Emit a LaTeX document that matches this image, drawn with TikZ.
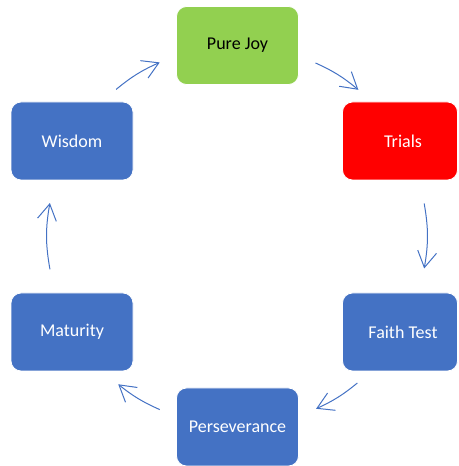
\documentclass[tikz,border=0pt]{standalone}
\usepackage{fontspec}
\setmainfont{Carlito}
\usetikzlibrary{arrows.meta}
\definecolor{joygreen}{HTML}{92D050}
\definecolor{trialred}{HTML}{FF0000}
\definecolor{boxblue}{HTML}{4472C4}
\tikzset{
  stagebox/.style={rectangle, rounded corners=10pt, minimum width=122pt, minimum height=78pt,
    inner sep=0pt, draw=white, line width=0.8pt, text=white,
    font=\fontsize{18}{22}\selectfont},
  cyclearrow/.style={draw=boxblue, line width=1pt,
    -{Straight Barb[length=16pt, width=19pt, line width=1pt]}}
}
\begin{document}
\begin{tikzpicture}[x=1pt, y=1pt]
\useasboundingbox (0,0) rectangle (458,466);
\clip (0,0) rectangle (458,466);
\node[stagebox, fill=joygreen, text=black] (joy) at (237.5,420.5) {Pure Joy};
\node[stagebox, fill=trialred, minimum width=115pt] (trials) at (400,325) {\hspace*{6pt}Trials};
\node[stagebox, fill=boxblue, minimum width=115pt] (faith) at (400,134) {\hspace*{6pt}Faith Test};
\node[stagebox, fill=boxblue] (persev) at (237.5,39) {Perseverance};
\node[stagebox, fill=boxblue] (maturity) at (72,134) {Maturity};
\node[stagebox, fill=boxblue] (wisdom) at (72,325) {Wisdom};
\coordinate (C) at (237,230);
\coordinate (a1s) at ([shift={(129.5:190)}]C);
\coordinate (a1e) at ([shift={(114:190)}]C);
\coordinate (a2s) at ([shift={(65.6:190)}]C);
\coordinate (a2e) at ([shift={(50.3:190)}]C);
\coordinate (a3s) at ([shift={(9.85:190)}]C);
\coordinate (a3e) at ([shift={(-9.85:190)}]C);
\coordinate (a4s) at ([shift={(-50.7:190)}]C);
\coordinate (a4e) at ([shift={(-65.4:190)}]C);
\coordinate (a5s) at ([shift={(-114:190)}]C);
\coordinate (a5e) at ([shift={(-128.7:190)}]C);
\coordinate (a6s) at ([shift={(190.1:190)}]C);
\coordinate (a6e) at ([shift={(170:190)}]C);
\draw[cyclearrow] (a1s) to[bend left=7.75] (a1e);
\draw[cyclearrow] (a2s) to[bend left=7.65] (a2e);
\draw[cyclearrow] (a3s) to[bend left=9.85] (a3e);
\draw[cyclearrow] (a4s) to[bend left=7.35] (a4e);
\draw[cyclearrow] (a5s) to[bend left=7.35] (a5e);
\draw[cyclearrow] (a6s) to[bend left=10] (a6e);
\end{tikzpicture}
\end{document}
